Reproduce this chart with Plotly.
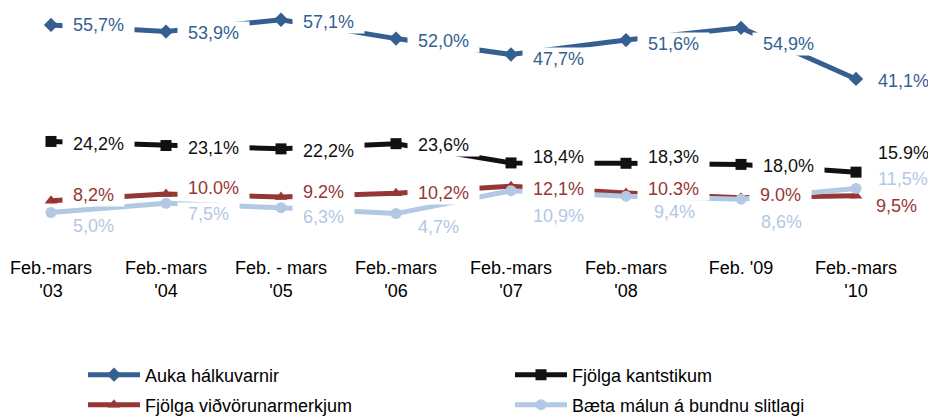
import plotly.graph_objects as go

categories = ["Feb.-mars<br>'03", "Feb.-mars<br>'04", "Feb. - mars<br>'05", "Feb.-mars<br>'06",
              "Feb.-mars<br>'07", "Feb.-mars<br>'08", "Feb. '09", "Feb.-mars<br>'10"]

names = ["Auka hálkuvarnir", "Fjölga kantstikum", "Fjölga viðvörunarmerkjum", "Bæta málun á bundnu slitlagi"]

auka = [55.7, 53.9, 57.1, 52.0, 47.7, 51.6, 54.9, 41.1]
kantstikur = [24.2, 23.1, 22.2, 23.6, 18.4, 18.3, 18.0, 15.9]
vidvorun = [8.2, 10.0, 9.2, 10.2, 12.1, 10.3, 9.0, 9.5]
malun = [5.0, 7.5, 6.3, 4.7, 10.9, 9.4, 8.6, 11.5]

auka_lbl = ["55,7%", "53,9%", "57,1%", "52,0%", "47,7%", "51,6%", "54,9%", "41,1%"]
kant_lbl = ["24,2%", "23,1%", "22,2%", "23,6%", "18,4%", "18,3%", "18,0%", "15.9%"]
vid_lbl = ["8,2%", "10.0%", "9.2%", "10,2%", "12,1%", "10.3%", "9.0%", "9,5%"]
mal_lbl = ["5,0%", "7,5%", "6,3%", "4,7%", "10,9%", "9,4%", "8,6%", "11,5%"]

series = [auka, kantstikur, vidvorun, malun]
labels = [auka_lbl, kant_lbl, vid_lbl, mal_lbl]

# styling
colors = ["#365F91", "#111111", "#953735", "#B3C8E3"]
symbols = ["diamond", "square", "triangle-up", "circle"]
# label offsets (pixels): down-shift of text centre relative to marker
dy = [
    [0, 1, 2, 2, 4, 4, 16, 2],
    [3, 2, 2, 1, -6, -6, 2, -19],
    [-6, -6, -5, 0, 3, -4, -3, 10],
    [13, 11, 9, 13, 25, 16, 23, -9],
]
dx = [
    [21, 21, 21, 21, 21, 21, 21, 21],
    [21, 21, 21, 21, 21, 21, 21, 21],
    [21, 21, 21, 21, 21, 21, 18, 19],
    [21, 21, 21, 21, 21, 27, 19, 21],
]

FONT = "Liberation Sans, Arial, sans-serif"
PAD = "\u2002"  # en space, ~9px at 18px

fig = go.Figure()
legend_ids = ["legend", "legend2", "legend3", "legend4"]
for i, (vals, nm) in enumerate(zip(series, names)):
    fig.add_trace(go.Scatter(
        x=categories, y=vals, name=nm, mode="lines+markers",
        line=dict(color=colors[i], width=5),
        marker=dict(symbol=symbols[i], size=11, color=colors[i]),
        legend=legend_ids[i], hoverinfo="skip",
    ))

annotations = []
n = len(categories)
for i, (vals, lbls) in enumerate(zip(series, labels)):
    for j, (v, t) in enumerate(zip(vals, lbls)):
        tail = PAD if j < n - 1 else ""
        annotations.append(dict(
            x=categories[j], y=v, xref="x", yref="y",
            text=PAD + t + tail, showarrow=False,
            xanchor="left", yanchor="middle",
            xshift=dx[i][j] - 10, yshift=-dy[i][j],
            font=dict(family=FONT, size=18, color=colors[i]),
            bgcolor="white", borderpad=1,
        ))

def lg(xp, yp):
    return dict(x=xp, y=yp, xref="paper", yref="container", xanchor="left", yanchor="middle",
                orientation="h", font=dict(family=FONT, size=18, color="#000000"),
                bgcolor="rgba(0,0,0,0)", itemwidth=52, itemclick=False)

def cy(p):
    return (416 - p) / 416.0

fig.update_layout(
    width=928, height=416,
    margin=dict(l=0, r=0, t=9, b=185),
    paper_bgcolor="white", plot_bgcolor="white",
    showlegend=True,
    xaxis=dict(type="category", range=[-0.4435, 7.626], showgrid=False, zeroline=False,
               showline=False, ticks="", ticklabelstandoff=24,
               tickfont=dict(family=FONT, size=18, color="#000000")),
    yaxis=dict(range=[0, 60], visible=False, showgrid=False, zeroline=False),
    annotations=annotations,
    legend=lg(83 / 928, cy(375)),
    legend2=lg(510 / 928, cy(375)),
    legend3=lg(83 / 928, cy(405)),
    legend4=lg(510 / 928, cy(405)),
)

fig.write_html("out.html", config={"displayModeBar": False},
               post_script="document.body.style.margin='0px';document.body.style.overflow='hidden';")
